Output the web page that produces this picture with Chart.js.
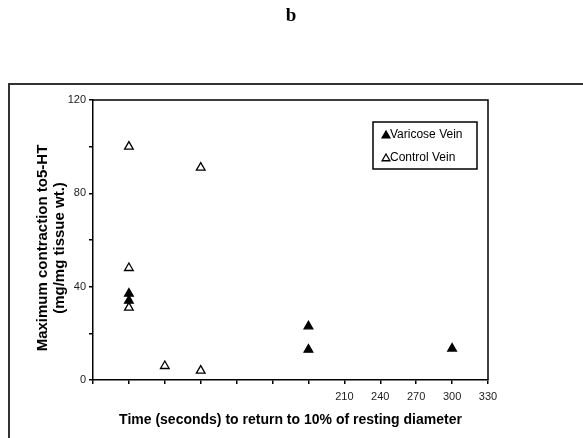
<!DOCTYPE html>
<html>
<head>
<meta charset="utf-8">
<script src="https://cdn.jsdelivr.net/npm/chart.js@4.4.1/dist/chart.umd.min.js"></script>
<style>
  html, body { margin: 0; padding: 0; background: #fff; }
  #wrap { position: relative; width: 583px; height: 438px; }
</style>
</head>
<body>
<div id="wrap"><canvas id="chart" width="583" height="438"></canvas></div>
<script>
// data
const seriesNames = ["Varicose Vein", "Control Vein"];
const varicoseTime = [30, 30, 180, 180, 300];
const varicoseForce = [37, 34, 23, 13, 13.5];
const controlTime = [30, 30, 30, 60, 90, 90];
const controlForce = [100, 48, 31, 6, 91, 4];
const xTickLabels = [210, 240, 270, 300, 330];
const yTickLabels = [0, 40, 80, 120];
const yTitleLines = ["Maximum contraction to5-HT", "(mg/mg tissue wt.)"];

const toPoints = (xs, ys) => xs.map((x, i) => ({ x, y: ys[i] }));

const tri = (ctx, x, y, r, filled) => {
  ctx.beginPath();
  ctx.moveTo(x, y - r);
  ctx.lineTo(x + r * 0.866, y + r * 0.5);
  ctx.lineTo(x - r * 0.866, y + r * 0.5);
  ctx.closePath();
  ctx.fillStyle = filled ? "#000" : "#fff";
  ctx.fill();
  ctx.lineWidth = 1.3;
  ctx.strokeStyle = "#000";
  ctx.stroke();
};

const framePlugin = {
  id: "frame",
  beforeDraw(chart) {
    const { ctx } = chart;
    ctx.save();
    ctx.fillStyle = "#000";
    ctx.font = "bold 19px 'Liberation Serif'";
    ctx.textAlign = "center";
    ctx.textBaseline = "middle";
    ctx.fillText("b", 291, 16);
    ctx.strokeStyle = "#333";
    ctx.lineWidth = 2;
    ctx.beginPath();
    ctx.moveTo(9, 438);
    ctx.lineTo(9, 84);
    ctx.lineTo(583, 84);
    ctx.stroke();
    ctx.restore();
  },
  afterDraw(chart) {
    const { ctx, chartArea: a } = chart;
    ctx.save();
    ctx.strokeStyle = "#000";
    ctx.lineWidth = 1.5;
    ctx.beginPath();
    ctx.moveTo(a.left, a.top);
    ctx.lineTo(a.right, a.top);
    ctx.lineTo(a.right, a.bottom);
    ctx.stroke();

    // y axis title, two lines, slightly below the plot centre like the original
    ctx.save();
    ctx.translate(43, 248);
    ctx.rotate(-Math.PI / 2);
    ctx.font = "bold 15px 'Liberation Sans'";
    ctx.fillStyle = "#000";
    ctx.textAlign = "center";
    ctx.textBaseline = "middle";
    yTitleLines.forEach((t, i) => ctx.fillText(t, 0, i * 17));
    ctx.restore();

    // legend box
    const bx = 373, by = 122, bw = 104, bh = 47;
    ctx.lineWidth = 1.5;
    ctx.strokeStyle = "#000";
    ctx.strokeRect(bx, by, bw, bh);
    ctx.font = "12px 'Liberation Sans'";
    ctx.textBaseline = "middle";
    ctx.textAlign = "left";
    chart.data.datasets.forEach((ds, i) => {
      const y = by + 13 + i * 23;
      tri(ctx, 386, y + 0.5, 4.5, i === 0);
      ctx.fillStyle = "#000";
      ctx.fillText(ds.label, 390, y);
    });
    ctx.restore();
  }
};

new Chart(document.getElementById("chart"), {
  type: "scatter",
  data: {
    datasets: [
      {
        label: seriesNames[0],
        data: toPoints(varicoseTime, varicoseForce),
        pointStyle: "triangle",
        pointRadius: 5,
        pointBackgroundColor: "#000",
        pointBorderColor: "#000",
        pointBorderWidth: 1.3,
      },
      {
        label: seriesNames[1],
        data: toPoints(controlTime, controlForce),
        pointStyle: "triangle",
        pointRadius: 5,
        pointBackgroundColor: "#fff",
        pointBorderColor: "#000",
        pointBorderWidth: 1.3,
      },
    ],
  },
  options: {
    responsive: false,
    animation: false,
    layout: { padding: { left: 0, top: 100, right: 95, bottom: 0 } },
    plugins: { legend: { display: false }, tooltip: { enabled: false } },
    scales: {
      x: {
        type: "linear",
        min: 0,
        max: 330,
        afterFit: (s) => { s.height = 58; },
        border: { display: true, color: "#000", width: 1.5 },
        grid: { drawOnChartArea: false, drawTicks: true, tickLength: 4, color: "#000", lineWidth: 1.5 },
        ticks: {
          stepSize: 30,
          padding: 6,
          color: "#222",
          font: { family: "'Liberation Sans'", size: 11 },
          maxRotation: 0,
          autoSkip: false,
          callback: (v) => (xTickLabels.includes(v) ? String(v) : ""),
        },
        title: {
          display: true,
          text: "Time (seconds) to return to 10% of resting diameter",
          color: "#000",
          font: { family: "'Liberation Sans'", size: 14, weight: "bold", lineHeight: 1.4 },
          padding: { top: 0, bottom: 8 },
        },
      },
      y: {
        min: 0,
        max: 120,
        afterFit: (s) => { s.width = 93; },
        border: { display: true, color: "#000", width: 1.5 },
        grid: { drawOnChartArea: false, drawTicks: true, tickLength: 4, color: "#000", lineWidth: 1.5 },
        ticks: {
          stepSize: 20,
          padding: 3,
          color: "#222",
          font: { family: "'Liberation Sans'", size: 11 },
          autoSkip: false,
          callback: (v) => (yTickLabels.includes(v) ? String(v) : ""),
        },
        title: { display: false },
      },
    },
  },
  plugins: [framePlugin],
});
</script>
</body>
</html>
